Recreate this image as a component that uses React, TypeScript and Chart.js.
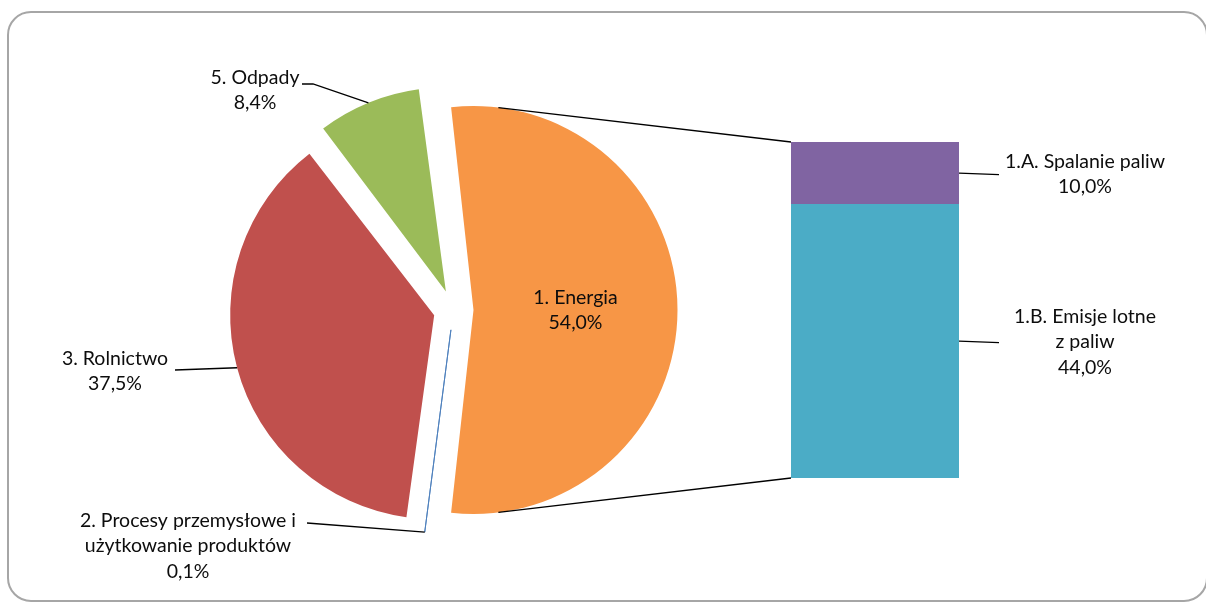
import React, { useEffect, useRef } from "react";
import { Chart, registerables } from "chart.js";

Chart.register(...registerables);

// ---- data ----
const pieLabels = ["1. Energia", "2. Procesy przemysłowe i użytkowanie produktów", "3. Rolnictwo", "5. Odpady"];
const pieLabelLines = [["1. Energia"], ["2. Procesy przemysłowe i", "użytkowanie produktów"], ["3. Rolnictwo"], ["5. Odpady"]];
const pieValues = [54.0, 0.1, 37.5, 8.4];
const pieColors = ["#F79646", "#4F81BD", "#C0504D", "#9BBB59"];

const barLabels = ["1.B. Emisje lotne z paliw", "1.A. Spalanie paliw"];
const barLabelLines = [["1.B. Emisje lotne", "z paliw"], ["1.A. Spalanie paliw"]];
const barValues = [44.0, 10.0];
const barColors = ["#4BACC6", "#8064A2"];

// ---- layout (positions only) ----
const W = 1206;
const H = 606;
const PIE_CX = 453.5;
const PIE_CY = 310;
const PIE_R = 204;
const EXPLODE = 20;
const CONNECT_DEG = 83;
const BAR_BOX = { left: 791, right: 959, top: 142, bottom: 478 };
const FONT = "19.5px Lato, 'Open Sans', sans-serif";
const LINE_H = 25.5;
const TEXT_COLOR = "#0d0d0d";

// label placements for pie slices
const pieLabelPos: Record<number, { tx: number; ty: number; lx: number; ly: number; ex?: number }> = {
  1: { tx: 188, ty: 546, lx: 307, ly: 523 },
  2: { tx: 115, ty: 371, lx: 175, ly: 370 },
  3: { tx: 255, ty: 90, lx: 302, ly: 84, ex: 313 },
};
const barLabelPos = { tx: 1085, gap: 40 };

const fmt = (v: number) => v.toFixed(1).replace(".", ",") + "%";

function drawLines(ctx: CanvasRenderingContext2D, lines: string[], cx: number, cy: number) {
  ctx.save();
  ctx.font = FONT;
  ctx.fillStyle = TEXT_COLOR;
  ctx.textAlign = "center";
  ctx.textBaseline = "middle";
  const n = lines.length;
  lines.forEach((l, i) => {
    ctx.fillText(l, cx, cy + (i - (n - 1) / 2) * LINE_H);
  });
  ctx.restore();
}

export default function App() {
  const pieRef = useRef<HTMLCanvasElement | null>(null);
  const barRef = useRef<HTMLCanvasElement | null>(null);

  useEffect(() => {
    document.body.style.margin = "0";
    document.body.style.overflow = "hidden";
    if (!pieRef.current || !barRef.current) return;

    const barTotal = barValues.reduce((a, b) => a + b, 0);
    const barChart = new Chart(barRef.current, {
      type: "bar",
      data: {
        labels: [""],
        datasets: barValues.map((v, i) => ({
          label: barLabels[i],
          data: [v],
          backgroundColor: barColors[i],
          borderWidth: 0,
          barPercentage: 1,
          categoryPercentage: 1,
        })),
      },
      options: {
        animation: false,
        responsive: false,
        events: [],
        layout: {
          padding: {
            left: BAR_BOX.left,
            right: W - BAR_BOX.right,
            top: BAR_BOX.top,
            bottom: H - BAR_BOX.bottom,
          },
        },
        scales: {
          x: { stacked: true, display: false },
          y: { stacked: true, display: false, min: 0, max: barTotal },
        },
        plugins: { legend: { display: false }, tooltip: { enabled: false } },
      },
      plugins: [
        {
          id: "barLabels",
          afterDraw(chart: any) {
            const ctx = chart.ctx as CanvasRenderingContext2D;
            barValues.forEach((v, i) => {
              const el: any = chart.getDatasetMeta(i).data[0];
              const right = el.x + el.width / 2;
              const mid = (el.y + el.base) / 2;
              ctx.save();
              ctx.strokeStyle = "#000";
              ctx.lineWidth = 1.3;
              ctx.beginPath();
              ctx.moveTo(right, mid);
              ctx.lineTo(right + barLabelPos.gap, mid + 1.5);
              ctx.stroke();
              ctx.restore();
              drawLines(ctx, [...barLabelLines[i], fmt(v)], barLabelPos.tx, mid + 1);
            });
          },
        },
      ],
    } as any);

    const total = pieValues.reduce((a, b) => a + b, 0);
    const halfFirst = (pieValues[0] / total) * 180;

    const pieChart = new Chart(pieRef.current, {
      type: "pie",
      data: {
        labels: pieLabels,
        datasets: [
          {
            data: pieValues,
            backgroundColor: pieColors,
            borderColor: pieColors,
            borderWidth: pieValues.map((v) => (v < 1 ? 1 : 0)),
            offset: EXPLODE * 4,
          },
        ],
      },
      options: {
        animation: false,
        responsive: false,
        events: [],
        rotation: 90 - halfFirst,
        radius: PIE_R,
        layout: {
          padding: {
            left: 0,
            right: W - 2 * PIE_CX,
            top: 2 * PIE_CY - H,
            bottom: 0,
          },
        },
        plugins: { legend: { display: false }, tooltip: { enabled: false } },
      },
      plugins: [
        {
          id: "equalRadius",
          beforeDatasetsDraw(chart: any) {
            chart.getDatasetMeta(0).data.forEach((arc: any) => {
              const fix = 1 - Math.sin(Math.min(Math.PI, arc.circumference || 0));
              arc.outerRadius = PIE_R - EXPLODE * fix;
            });
          },
        },
        {
          id: "pieLabels",
          afterDraw(chart: any) {
            const ctx = chart.ctx as CanvasRenderingContext2D;
            const arcs = chart.getDatasetMeta(0).data;
            arcs.forEach((arc: any, i: number) => {
              const mid = (arc.startAngle + arc.endAngle) / 2;
              const ax = arc.x + Math.cos(mid) * EXPLODE;
              const ay = arc.y + Math.sin(mid) * EXPLODE;
              const text = [...pieLabelLines[i], fmt(pieValues[i])];
              if (i === 0) {
                drawLines(ctx, text, ax + PIE_R / 2, ay);
                const barEls = barChart.getDatasetMeta(barValues.length - 1).data[0] as any;
                const baseEl = barChart.getDatasetMeta(0).data[0] as any;
                const left = baseEl.x - baseEl.width / 2;
                const top = barEls.y;
                const bottom = baseEl.base;
                const a = (CONNECT_DEG * Math.PI) / 180;
                ctx.save();
                ctx.strokeStyle = "#000";
                ctx.lineWidth = 1.3;
                ctx.beginPath();
                ctx.moveTo(ax + PIE_R * Math.cos(-a), ay + PIE_R * Math.sin(-a));
                ctx.lineTo(left, top);
                ctx.moveTo(ax + PIE_R * Math.cos(a), ay + PIE_R * Math.sin(a));
                ctx.lineTo(left, bottom);
                ctx.stroke();
                ctx.restore();
                return;
              }
              const p = pieLabelPos[i];
              const px = ax + PIE_R * Math.cos(mid);
              const py = ay + PIE_R * Math.sin(mid);
              ctx.save();
              ctx.strokeStyle = "#000";
              ctx.lineWidth = 1.3;
              ctx.beginPath();
              ctx.moveTo(p.lx, p.ly);
              if (p.ex) ctx.lineTo(p.ex, p.ly);
              ctx.lineTo(px, py);
              ctx.stroke();
              ctx.restore();
              drawLines(ctx, text, p.tx, p.ty);
            });
          },
        },
      ],
    } as any);

    return () => {
      pieChart.destroy();
      barChart.destroy();
    };
  }, []);

  return (
    <div style={{ position: "relative", width: W, height: H, background: "#fff", overflow: "hidden" }}>
      <div
        style={{
          position: "absolute",
          left: 7,
          top: 11,
          width: 1201,
          height: 591,
          boxSizing: "border-box",
          border: "2px solid #a6a6a6",
          borderRadius: 24,
        }}
      />
      <canvas ref={barRef} width={W} height={H} style={{ position: "absolute", left: 0, top: 0 }} />
      <canvas ref={pieRef} width={W} height={H} style={{ position: "absolute", left: 0, top: 0 }} />
    </div>
  );
}
